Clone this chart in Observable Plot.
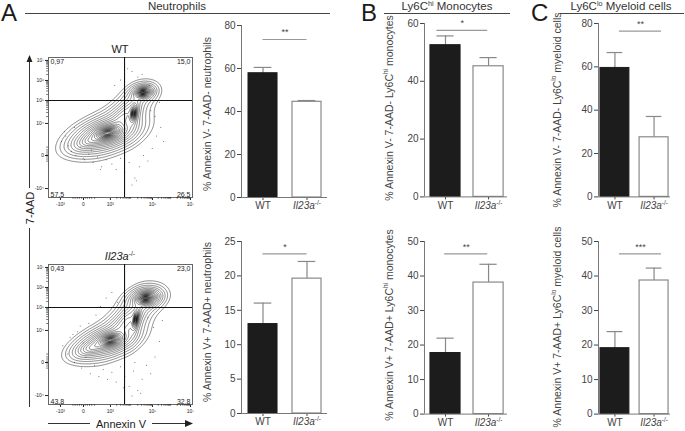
<!DOCTYPE html>
<html><head><meta charset="utf-8">
<script src="https://cdn.jsdelivr.net/npm/d3@7"></script>
<script src="https://cdn.jsdelivr.net/npm/@observablehq/plot@0.6"></script>
<style>
body{margin:0;background:#fff;font-family:"Liberation Sans",Arial,Helvetica,sans-serif;}
#fig{position:relative;width:685px;height:431px;overflow:hidden;background:#fff;}
#fig svg{position:absolute;}
</style></head><body><div id="fig"></div><script>
// ---------------- DATA ----------------
const groups = ["WT", "Il23a-/-"];
// bar panels: A top, A bottom, B top, B bottom, C top, C bottom
const meanWT = [57.8, 13.0, 52.5, 17.7, 59.5, 19.1];
const semWT  = [2.7, 3.05, 3.2, 4.3, 7.1, 4.8];
const meanKO = [44.5, 19.6, 45.2, 38.1, 27.5, 38.7];
const semKO  = [0.6, 2.5, 3.0, 5.3, 9.6, 3.6];
const yMax = [80, 25, 60, 50, 80, 50];
const yStep = [20, 5, 20, 10, 20, 10];
const sigLevel = [73.5, 23.2, 57.6, 46.4, 76.5, 46.4];
const sigStars = ["**", "*", "*", "**", "**", "***"];
const yLabelText = [
  [["% Annexin V- 7-AAD- neutrophils"]],
  [["% Annexin V+ 7-AAD+ neutrophils"]],
  [["% Annexin V- 7-AAD- Ly6C"], ["hi", "sup"], [" monocytes"]],
  [["% Annexin V+ 7-AAD+ Ly6C"], ["hi", "sup"], [" monocytes"]],
  [["% Annexin V- 7-AAD- Ly6C"], ["lo", "sup"], [" myeloid cells"]],
  [["% Annexin V+ 7-AAD+ Ly6C"], ["lo", "sup"], [" myeloid cells"]]
];
const panelLetters = ["A", "B", "C"];
const panelTitles = [
  [["Neutrophils"]],
  [["Ly6C"], ["hi", "sup"], [" Monocytes"]],
  [["Ly6C"], ["lo", "sup"], [" Myeloid cells"]]
];

// flow cytometry panels (WT, Il23a-/-), axes in display units 0..100
const flowTitles = [[["WT"]], [["Il23a", "i"], ["-/-", "sup"]]];
const quadWT = ["0,97", "15,0", "57,5", "26,5"];
const quadKO = ["0,43", "23,0", "43,8", "32,8"];
const xTickPos = [8.3, 24.3, 43, 72.2, 98.6];
const xTickText = ["-10³", "0", "10³", "10⁵", "10⁷"];
const xDecades = [43, 57.6, 72.2, 85.4, 98.6];
const yTickPos = [97.9, 83.6, 69.3, 52.9, 30, 6.4];
const yTickText = ["10⁷", "10⁶", "10⁵", "10⁴", "0", "-10⁴"];
const yDecades = [52.9, 69.3, 83.6, 97.9];
const gateX = 52.8, gateY = 69.3;
// estimated populations (main, lower-left tail, middle, top-right, bridge)
const wtCx = [41, 30, 59, 65.5, 52];
const wtCy = [46, 41, 60, 75, 58];
const wtSx = [9, 7, 2.2, 4.5, 8];
const wtSy = [5, 4, 5.5, 3, 9];
const wtRho = [0.35, 0.5, 0.3, 0.2, 0.7];
const wtW = [1, 0.011, 0.3, 0.6, 0.007];
const wtCore = [0.08, 1.5, 0.08, 0.06, 1.5];
const koCx = [43, 31, 60.5, 67.5, 54];
const koCy = [46, 41, 61, 76, 59];
const koSx = [8, 7, 2.2, 5.5, 8];
const koSy = [4.5, 4, 6.5, 3.5, 9];
const koRho = [0.35, 0.5, 0.5, 0.2, 0.7];
const koW = [0.7, 0.01, 0.25, 1.0, 0.008];
const koCore = [0.08, 1.5, 0.08, 0.06, 1.5];
// outlier events
const wtDotX = [9,12,14,11,16,19,22,25,28,31,34,37,40,44,47,50,53,56,60,63,66,69,72,75,78,74,71,77,80,62,58,50,46,55,65,70,36,30,24,18,58,61];
const wtDotY = [40,44,37,47,33,30,36,27,31,25,29,22,27,24,20,28,18,25,14,22,30,26,35,44,50,58,62,68,40,86,90,84,80,92,88,80,20,34,28,50,9,12];
const koDotX = [10,13,15,18,20,23,26,29,32,35,38,41,44,47,50,53,56,59,62,65,68,71,74,77,73,69,40,44,48,36,33,28,22,17,60,64,58,52,79,24];
const koDotY = [42,36,48,30,52,26,34,22,28,20,25,18,23,16,27,20,13,24,10,18,28,22,34,45,55,62,76,80,73,70,64,58,56,50,30,8,6,12,60,44];

// ---------------- LAYOUT ----------------
const barFrames = [
  {l: 241, r: 327, t: 25, b: 197, a: 0.489, a2: 0.466, h: 0.33, s1: 0, s2: 1},
  {l: 241, r: 327, t: 240.7, b: 412.7, a: 0.489, a2: 0.466, h: 0.33, s1: 0, s2: 1},
  {l: 424, r: 507, t: 23.3, b: 196.7, a: 0.488, a2: 0.44, h: 0.35, s1: -0.2, s2: 0.98},
  {l: 424, r: 507, t: 240.7, b: 413.3, a: 0.488, a2: 0.44, h: 0.35, s1: -0.02, s2: 0.98},
  {l: 598, r: 670, t: 23.3, b: 196.7, a: 0.42, a2: 0.42, h: 0.37, s1: 0.115, s2: 1.19},
  {l: 598, r: 670, t: 240.7, b: 413.3, a: 0.42, a2: 0.42, h: 0.37, s1: 0.115, s2: 1.19}
];
const yLabelPos = [[207, 114], [207, 322], [389, 108], [389, 325], [557, 110], [557, 327]];
const flowFrames = [{l: 48, r: 192, t: 57, b: 197}, {l: 48, r: 192, t: 264, b: 404}];

const NS = "http://www.w3.org/2000/svg";
const fig = document.getElementById("fig");
const FONT = '"Liberation Sans", Arial, Helvetica, sans-serif';

// overlay for headers and labels
const ov = document.createElementNS(NS, "svg");
ov.setAttribute("width", 685); ov.setAttribute("height", 431);
ov.style.left = "0px"; ov.style.top = "0px";
ov.setAttribute("font-family", FONT);
fig.appendChild(ov);

function el(tag, attrs, parent) {
  const e = document.createElementNS(NS, tag);
  for (const k in attrs) e.setAttribute(k, attrs[k]);
  (parent || ov).appendChild(e);
  return e;
}
function richText(segs, attrs, size) {
  const t = el("text", Object.assign({"font-size": size}, attrs));
  let shifted = false;
  for (const [s, kind] of segs) {
    const sp = el("tspan", {}, t);
    sp.textContent = s;
    if (kind === "sup") {
      sp.setAttribute("font-size", size * 0.62);
      sp.setAttribute("dy", -size * 0.38);
      shifted = true;
    } else {
      if (shifted) { sp.setAttribute("dy", size * 0.38); shifted = false; }
      if (kind === "i") sp.setAttribute("font-style", "italic");
    }
  }
  return t;
}

// panel headers
const headerGeom = [
  {lx: 1, x1: 25, x2: 330, cx: 177},
  {lx: 361, x1: 384, x2: 510, cx: 447},
  {lx: 531, x1: 560, x2: 684, cx: 621}
];
headerGeom.forEach((g, i) => {
  const L = el("text", {x: g.lx, y: 21, "font-size": 24, fill: "#1a1a1a"});
  L.textContent = panelLetters[i];
  el("line", {x1: g.x1, x2: g.x2, y1: 13.5, y2: 13.5, stroke: "#444", "stroke-width": 1});
  richText(panelTitles[i], {x: g.cx, y: 10, "text-anchor": "middle", fill: "#333"}, 11.5);
});

// y labels for bar charts
yLabelText.forEach((segs, k) => {
  const [x, y] = yLabelPos[k];
  richText(segs, {transform: `translate(${x},${y}) rotate(-90)`, "text-anchor": "middle",
    "dominant-baseline": "central", fill: "#444"}, 10.5);
});

// flow titles
flowTitles.forEach((segs, k) => {
  const f = flowFrames[k];
  richText(segs, {x: (f.l + f.r) / 2, y: f.t - 4, "text-anchor": "middle", fill: "#222"}, 11);
});

// flow axis arrows (7-AAD, Annexin V)
el("line", {x1: 29.5, x2: 29.5, y1: 407, y2: 60, stroke: "#333", "stroke-width": 1});
el("path", {d: "M29.5,55 L26.5,62 L32.5,62 Z", fill: "#222"});
el("rect", {x: 22, y: 188, width: 15, height: 40, fill: "#fff"});
el("text", {transform: "translate(29.5,208) rotate(-90)", "text-anchor": "middle", "dominant-baseline": "central", "font-size": 11, fill: "#222"}).textContent = "7-AAD";
el("line", {x1: 48, x2: 187, y1: 423.5, y2: 423.5, stroke: "#333", "stroke-width": 1});
el("path", {d: "M193,423.5 L185,420 L185,427 Z", fill: "#222"});
el("rect", {x: 90, y: 415, width: 62, height: 16, fill: "#fff"});
el("text", {x: 121, y: 423.5, "text-anchor": "middle", "dominant-baseline": "central", "font-size": 11, fill: "#222"}).textContent = "Annexin V";

function place(svg, x, y) {
  svg.style.left = x + "px"; svg.style.top = y + "px";
  fig.appendChild(svg);
}

// ---------------- BAR CHARTS ----------------
function barChart(k) {
  const f = barFrames[k];
  const mL = 40, mR = 10, mT = 16, mB = 22;
  const rows = groups.map((g, i) => ({i, g, mean: i ? meanKO[k] : meanWT[k], sem: i ? semKO[k] : semWT[k]}));
  const cap = 0.2;
  const mid = (f.s1 + f.s2) / 2;
  const svg = Plot.plot({
    width: f.r - f.l + mL + mR,
    height: f.b - f.t + mT + mB,
    marginLeft: mL, marginRight: mR, marginTop: mT, marginBottom: mB,
    style: {background: "transparent", fontFamily: FONT, fontSize: "10px", color: "#444", overflow: "visible"},
    x: {domain: [-f.a, 1 + f.a2], ticks: [0, 1], tickFormat: d => groups[d], tickSize: 3, tickPadding: 1.5, label: null},
    y: {domain: [0, yMax[k]], ticks: d3.range(0, yMax[k] + 0.01, yStep[k]), tickSize: 4, tickPadding: 2, label: null},
    marks: [
      Plot.ruleX(rows, {x: "i", y1: "mean", y2: d => d.mean + d.sem, stroke: "#888", strokeWidth: 1.2}),
      Plot.ruleY(rows, {x1: d => d.i - cap, x2: d => d.i + cap, y: d => d.mean + d.sem, stroke: "#888", strokeWidth: 1.2}),
      Plot.rectY(rows.filter(d => d.i === 0), {x1: d => d.i - f.h, x2: d => d.i + f.h, y1: 0, y2: "mean", fill: "#1c1c1c", stroke: "#1c1c1c"}),
      Plot.rectY(rows.filter(d => d.i === 1), {x1: d => d.i - f.h, x2: d => d.i + f.h, y1: 0, y2: "mean", fill: "#fff", stroke: "#8a8a8a", strokeWidth: 1.2}),
      Plot.ruleX([-f.a], {stroke: "#777"}),
      Plot.ruleY([0], {stroke: "#777"}),
      Plot.ruleY([sigLevel[k]], {x1: f.s1, x2: f.s2, stroke: "#999", strokeWidth: 1.2}),
      Plot.text([sigStars[k]], {x: mid, y: sigLevel[k], dy: -7, text: d => d, fill: "#444", fontSize: 9})
    ]
  });
  // italic genotype with superscript
  svg.querySelectorAll("text").forEach(t => {
    if (t.textContent === "Il23a-/-") {
      t.textContent = "";
      const a = document.createElementNS(NS, "tspan");
      a.setAttribute("font-style", "italic"); a.textContent = "Il23a";
      const b = document.createElementNS(NS, "tspan");
      b.setAttribute("font-size", "6.5"); b.setAttribute("dy", "-4"); b.textContent = "-/-";
      t.append(a, b);
    }
  });
  place(svg, f.l - mL, f.t - mT);
}
for (let k = 0; k < 6; k++) barChart(k);

// ---------------- FLOW CONTOUR PLOTS ----------------
function minorFrom(decades) {
  const out = [];
  for (let j = 0; j < decades.length - 1; j++) {
    const d = decades[j + 1] - decades[j];
    for (let m = 2; m <= 9; m++) out.push(decades[j] + Math.log10(m) * d);
  }
  return out;
}
const xMinor = minorFrom(xDecades).concat([17, 18.5, 20, 21.5, 23, 25.5, 27, 28.5, 30, 32]);
const yMinor = minorFrom(yDecades).concat([26, 27.5, 29, 31, 32.5, 34, 36]);

function flowPlot(k) {
  const f = flowFrames[k];
  const cx = k ? koCx : wtCx, cy = k ? koCy : wtCy, sx = k ? koSx : wtSx, sy = k ? koSy : wtSy,
        rho = k ? koRho : wtRho, w = k ? koW : wtW, core = k ? koCore : wtCore;
  const dx = k ? koDotX : wtDotX, dy = k ? koDotY : wtDotY;
  const quads = k ? quadKO : quadWT;
  const events = dx.map((x, i) => ({x, y: dy[i]}));
  // heavy-tailed kernels: log-spaced contour levels crowd towards each core
  const p = 1.5;
  const logDensity = (x, y) => {
    let s = 1e-12;
    for (let i = 0; i < cx.length; i++) {
      const u = (x - cx[i]) / sx[i], v = (y - cy[i]) / sy[i], r = rho[i];
      const q = (u * u - 2 * r * u * v + v * v) / (1 - r * r);
      s += w[i] * Math.pow(1 + q / core[i], -p);
    }
    return Math.log(s);
  };
  const GW = 288, GH = 280;
  const grid = new Array(GW * GH);
  for (let j = 0; j < GH; j++)
    for (let i = 0; i < GW; i++)
      grid[j * GW + i] = logDensity((i + 0.5) * 100 / GW, (j + 0.5) * 100 / GH);

  const mL = 30, mR = 6, mT = 5, mB = 13;
  const xMap = new Map(xTickPos.map((p, i) => [p, xTickText[i]]));
  const yMap = new Map(yTickPos.map((p, i) => [p, yTickText[i]]));
  const anchors = ["top-left", "top-right", "bottom-left", "bottom-right"];
  const svg = Plot.plot({
    width: f.r - f.l + mL + mR, height: f.b - f.t + mT + mB,
    marginLeft: mL, marginRight: mR, marginTop: mT, marginBottom: mB,
    style: {background: "transparent", fontFamily: FONT, fontSize: "5px", color: "#222", overflow: "visible"},
    x: {domain: [0, 100], ticks: xTickPos, tickFormat: d => xMap.get(d), tickSize: 3, tickPadding: 1.5, label: null},
    y: {domain: [0, 100], ticks: yTickPos, tickFormat: d => yMap.get(d), tickSize: 3, tickPadding: 1.5, label: null},
    marks: [
      Plot.frame({stroke: "#666"}),
      Plot.dot(events, {x: "x", y: "y", r: 0.5, fill: "#555", stroke: null}),
      Plot.contour(grid, {value: Plot.identity, width: GW, height: GH, x1: 0, y1: 0, x2: 100, y2: 100,
        thresholds: d3.range(-7.2, -0.3, 0.3), stroke: "#111", strokeWidth: 0.5, fill: "none"}),
      Plot.ruleX([gateX], {stroke: "#111", strokeWidth: 1.1}),
      Plot.ruleY([gateY], {stroke: "#111", strokeWidth: 1.1}),
      Plot.ruleX(xMinor, {y1: 0, y2: -1.3, stroke: "#222", strokeWidth: 0.6}),
      Plot.ruleY(yMinor, {x1: 0, x2: -1.3, stroke: "#222", strokeWidth: 0.6}),
      ...quads.map((q, i) => Plot.text([q], {frameAnchor: anchors[i], text: d => d, fontSize: 7,
        dx: i % 2 ? -2 : 2, dy: i < 2 ? 2 : -1, fill: "#222"}))
    ]
  });
  place(svg, f.l - mL, f.t - mT);
}
flowPlot(0);
flowPlot(1);
</script></body></html>
